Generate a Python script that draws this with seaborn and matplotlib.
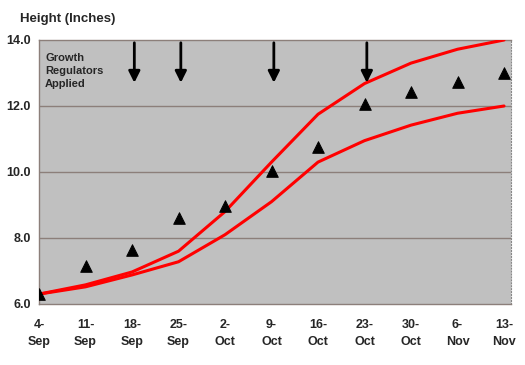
import matplotlib
matplotlib.use("Agg")
import matplotlib.pyplot as plt
import seaborn as sns
import pandas as pd
import numpy as np

# 데이터
weeks = ["4-\nSep", "11-\nSep", "18-\nSep", "25-\nSep", "2-\nOct", "9-\nOct",
         "16-\nOct", "23-\nOct", "30-\nOct", "6-\nNov", "13-\nNov"]
upper = [6.3, 6.58, 6.97, 7.6, 8.8, 10.3, 11.75, 12.68, 13.3, 13.72, 14.0]
lower = [6.3, 6.52, 6.88, 7.28, 8.1, 9.1, 10.3, 10.95, 11.42, 11.78, 12.0]
actual = [6.3, 7.15, 7.65, 8.6, 8.97, 10.02, 10.75, 12.07, 12.42, 12.73, 13.0]
applied_weeks = ["18-\nSep", "25-\nSep", "9-\nOct", "23-\nOct"]

sns.set_style("white")
plt.rcParams['font.family'] = ['Liberation Sans', 'DejaVu Sans']

df = pd.DataFrame({"week": np.arange(len(weeks)), "upper": upper,
                   "lower": lower, "actual": actual})

fig = plt.figure(figsize=(5.25, 3.65), dpi=100)
ax = fig.add_axes([39/525, 61/365, 472/525, 264/365])
ax.set_facecolor("#c0c0c0")

# 그리드
for y in [8, 10, 12]:
    ax.axhline(y, color="#8c7f7a", lw=1, zorder=1)

sns.lineplot(data=df, x="week", y="upper", color="#ff0000", lw=2.2, ax=ax, zorder=3)
sns.lineplot(data=df, x="week", y="lower", color="#ff0000", lw=2.2, ax=ax, zorder=3)
sns.scatterplot(data=df, x="week", y="actual", marker="^", color="black",
                s=70, edgecolor="black", ax=ax, zorder=4)

# 화살표
for w in applied_weeks:
    xi = weeks.index(w)
    ax.annotate("", xy=(xi + 0.05, 12.62), xytext=(xi + 0.05, 14.0),
                arrowprops=dict(arrowstyle="-|>", color="black", lw=2,
                                mutation_scale=17), zorder=5)

ax.text(0.13, 13.6, "Growth\nRegulators\nApplied", fontsize=8, fontweight="bold",
        va="top", ha="left", linespacing=1.35)

ax.set_xlim(0, 10.15)
ax.set_ylim(6, 14)
ax.set_xticks(range(len(weeks)))
ax.set_xticklabels(weeks, fontsize=9, fontweight="bold", linespacing=1.55)
ax.set_yticks([6, 8, 10, 12, 14])
ax.set_yticklabels([f"{v:.1f}" for v in [6, 8, 10, 12, 14]], fontsize=9, fontweight="bold")
ax.tick_params(axis="both", length=3, color="#8c7f7a", direction="out", pad=8)
ax.tick_params(axis="y", pad=3)
ax.set_xlabel("")
ax.set_ylabel("")

for side in ["top", "bottom", "left"]:
    ax.spines[side].set_color("#8c7f7a")
    ax.spines[side].set_linewidth(1)
ax.spines["right"].set_color("#888888")
ax.spines["right"].set_linestyle(":")

fig.text(20/525, 1 - 19/365, "Height (Inches)", fontsize=9.5, fontweight="bold",
         va="center", ha="left")

fig.savefig("out.png", dpi=100)
